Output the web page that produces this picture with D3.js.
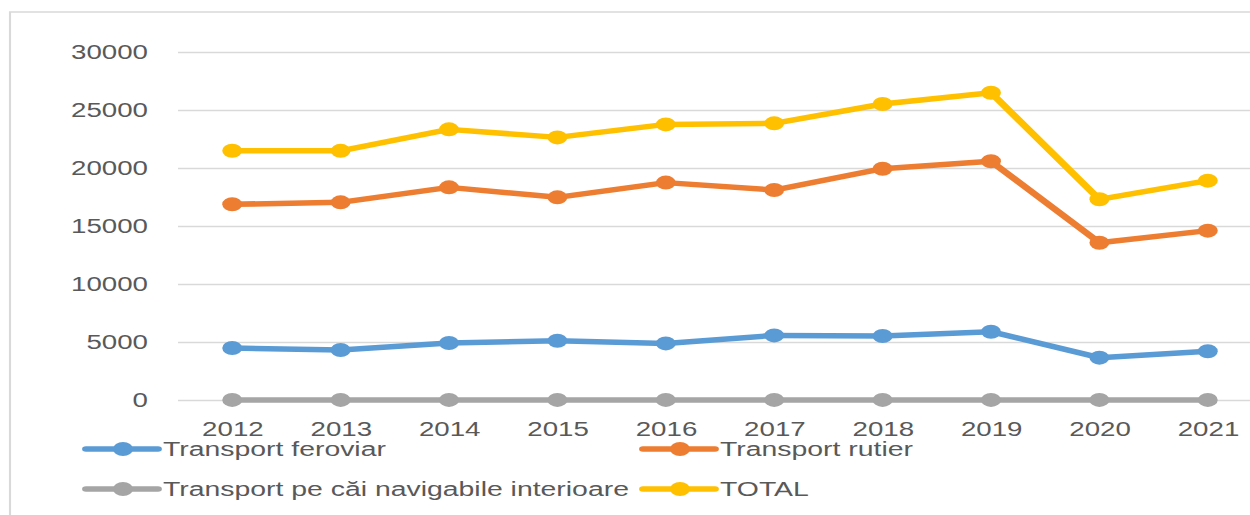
<!DOCTYPE html>
<html>
<head>
<meta charset="utf-8">
<script src="https://cdn.jsdelivr.net/npm/d3@7"></script>
<style>
  html, body { margin: 0; padding: 0; background: #fff; overflow: hidden; }
  svg { display: block; }
  text { font-family: 'Liberation Sans', Arial, sans-serif; fill: #595959; }
</style>
</head>
<body>
<script>
// data
const years = ['2012', '2013', '2014', '2015', '2016', '2017', '2018', '2019', '2020', '2021'];
const seriesNames = ['Transport feroviar', 'Transport rutier', 'Transport pe căi navigabile interioare', 'TOTAL'];
const feroviar = [4480, 4310, 4910, 5110, 4880, 5570, 5520, 5890, 3650, 4200];
const rutier = [16870, 17040, 18330, 17470, 18740, 18100, 19940, 20580, 13560, 14600];
const navigabil = [10, 10, 10, 10, 10, 10, 10, 10, 10, 10];
const total = [21490, 21480, 23330, 22640, 23760, 23850, 25520, 26490, 17300, 18910];
const yTicks = [0, 5000, 10000, 15000, 20000, 25000, 30000];
const colors = ['#5B9BD5', '#ED7D31', '#A5A5A5', '#FFC000'];

// the picture is stretched sideways, so draw in a narrower box and let the viewBox stretch it
const SX = 1.42;
const W = 1250 / SX;
const H = 515;
const px = (v) => v / SX;

const svg = d3.select('body')
  .append('svg')
  .attr('width', 1250)
  .attr('height', H)
  .attr('viewBox', `0 0 ${W} ${H}`)
  .attr('preserveAspectRatio', 'none');

// chart border
svg.append('rect')
  .attr('x', px(10))
  .attr('y', 12)
  .attr('width', px(1270))
  .attr('height', 530)
  .attr('fill', 'none')
  .attr('stroke', '#d9d9d9')
  .attr('stroke-width', 1.5);

const x = d3.scalePoint()
  .domain(years)
  .range([px(178), px(1262)])
  .padding(0.5);

const y = d3.scaleLinear()
  .domain([0, 30000])
  .range([400, 52]);

const plotW = px(1262) - px(178);

const yAxis = svg.append('g')
  .attr('transform', `translate(${px(178)},0)`)
  .call(d3.axisLeft(y).tickValues(yTicks).tickSize(-plotW).tickPadding(px(30)).tickFormat(d3.format('d')));

yAxis.select('.domain').remove();
yAxis.selectAll('.tick line')
  .attr('stroke', '#d9d9d9')
  .attr('stroke-width', 1.6);
yAxis.selectAll('.tick text')
  .attr('font-size', '19.5px')
  .attr('fill', '#595959');

const xAxis = svg.append('g')
  .attr('transform', 'translate(0,400)')
  .call(d3.axisBottom(x).tickSize(0).tickPadding(22));

xAxis.select('.domain').remove();
xAxis.selectAll('.tick text')
  .attr('font-size', '19.5px')
  .attr('fill', '#595959');

const allSeries = [feroviar, rutier, navigabil, total];

const line = d3.line()
  .x((d, i) => x(years[i]))
  .y((d) => y(d));

allSeries.forEach((values, k) => {
  const g = svg.append('g');

  g.append('path')
    .datum(values)
    .attr('d', line)
    .attr('fill', 'none')
    .attr('stroke', colors[k])
    .attr('stroke-width', 5.5)
    .attr('stroke-linejoin', 'round');

  g.selectAll('circle')
    .data(values)
    .enter()
    .append('circle')
    .attr('cx', (d, i) => x(years[i]))
    .attr('cy', (d) => y(d))
    .attr('r', 7)
    .attr('fill', colors[k]);
});

// legend, two columns in two rows
const legendPos = [
  { x: 86, y: 449 },
  { x: 643, y: 449 },
  { x: 86, y: 489 },
  { x: 643, y: 489 }
];

const legend = svg.selectAll('.legend-item')
  .data(seriesNames)
  .enter()
  .append('g')
  .classed('legend-item', true)
  .attr('transform', (d, i) => `translate(${px(legendPos[i].x)},${legendPos[i].y})`);

legend.append('line')
  .attr('x1', 0)
  .attr('x2', px(72))
  .attr('y1', 0)
  .attr('y2', 0)
  .attr('stroke', (d, i) => colors[i])
  .attr('stroke-width', 5.5)
  .attr('stroke-linecap', 'round');

legend.append('circle')
  .attr('cx', px(37))
  .attr('cy', 0)
  .attr('r', 7)
  .attr('fill', (d, i) => colors[i]);

legend.append('text')
  .attr('x', px(77))
  .attr('y', 7)
  .attr('font-size', '20px')
  .text((d) => d);
</script>
</body>
</html>
